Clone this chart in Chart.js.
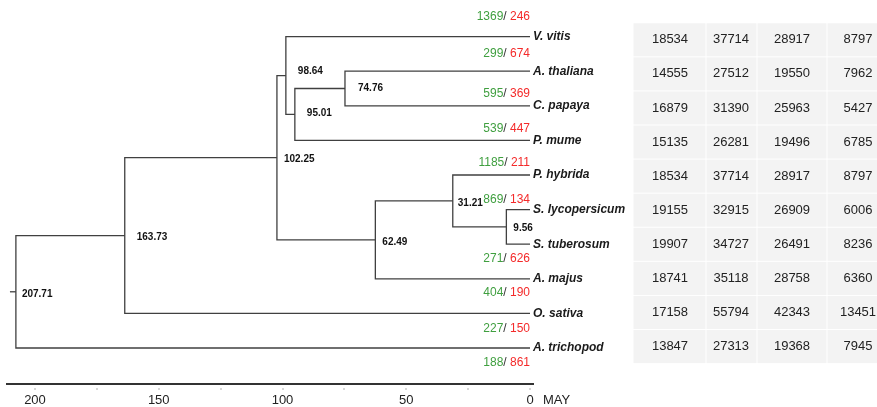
<!DOCTYPE html>
<html>
<head>
<meta charset="utf-8">
<script src="https://cdn.jsdelivr.net/npm/chart.js@4"></script>
<style>
    html, body { margin: 0; padding: 0; background: #fff; }
    #wrap { width: 877px; height: 407px; position: relative; }
</style>
</head>
<body>
<div id="wrap"><canvas id="treeChart"></canvas></div>
<script>
// Tips, top to bottom
const tips = ['V. vitis', 'A. thaliana', 'C. papaya', 'P. mume', 'P. hybrida',
    'S. lycopersicum', 'S. tuberosum', 'A. majus', 'O. sativa', 'A. trichopod'];
// Gene families gained / lost on each tip
const gained = [1369, 299, 595, 539, 1185, 869, 271, 404, 227, 188];
const lost = [246, 674, 369, 447, 211, 134, 626, 190, 150, 861];

// Internal nodes (ages in MYA) and their two children ('t' = tip, 'n' = node)
const nodeAges = [74.76, 95.01, 98.64, 9.56, 31.21, 62.49, 102.25, 163.73, 207.71];
const nodeChildren = [
    ['t1', 't2'], ['n0', 't3'], ['t0', 'n1'], ['t5', 't6'], ['t4', 'n3'],
    ['n4', 't7'], ['n2', 'n5'], ['n6', 't8'], ['n7', 't9']
];

// Table columns, one value per tip
const colA = [18534, 14555, 16879, 15135, 18534, 19155, 19907, 18741, 17158, 13847];
const colB = [37714, 27512, 31390, 26281, 37714, 32915, 34727, 35118, 55794, 27313];
const colC = [28917, 19550, 25963, 19496, 28917, 26909, 26491, 28758, 42343, 19368];
const colD = [8797, 7962, 5427, 6785, 8797, 6006, 8236, 6360, 13451, 7945];

// Axis
const majorTicks = [200, 150, 100, 50, 0];
const minorTicks = [175, 125, 75, 25];
const axisUnit = 'MAY';

// Styles / placement
const lineColor = '#404040';
const green = '#3f9f3f';
const red = '#f42a2a';
const rootStub = 2.4;
const countDy = [-20, -18, -12, -12, -12, -10, 14, 14, 15, 15];
const nodeLabelDx = [13, 12, 12, 7, 5, 7, 7, 12, 6];
const nodeLabelDy = [0, -1, -4, 1, 2, 2, 2, 2, 2];
const tableCols = [633, 706, 757, 827, 889];
const tableTextX = [670, 731, 792, 858];
const FONT = '"Liberation Sans", Arial, sans-serif';

// Layout: tips at y = index, nodes midway between children
const nodePos = [];
function posOf(ref) {
    const i = parseInt(ref.slice(1));
    return ref[0] === 't' ? { x: 0, y: i } : nodePos[i];
}
nodeAges.forEach((age, i) => {
    const a = posOf(nodeChildren[i][0]);
    const b = posOf(nodeChildren[i][1]);
    nodePos[i] = { x: age, y: (a.y + b.y) / 2, a: a, b: b };
});

// One elbow per internal node
const datasets = nodePos.map(n => ({
    data: [
        { x: n.a.x, y: n.a.y }, { x: n.x, y: n.a.y },
        { x: n.x, y: n.b.y }, { x: n.b.x, y: n.b.y }
    ]
}));
const root = nodePos[nodePos.length - 1];
datasets.push({ data: [{ x: root.x + rootStub, y: root.y }, { x: root.x, y: root.y }] });
datasets.forEach(d => {
    d.showLine = true;
    d.borderColor = lineColor;
    d.borderWidth = 1.3;
    d.pointRadius = 0;
    d.tension = 0;
    d.fill = false;
});

const labelsPlugin = {
    id: 'treeLabels',
    afterDatasetsDraw(chart) {
        const ctx = chart.ctx;
        const xs = chart.scales.x;
        const ys = chart.scales.y;
        const x0 = xs.getPixelForValue(0);
        ctx.save();
        ctx.textBaseline = 'middle';

        // node ages
        ctx.font = 'bold 10px ' + FONT;
        ctx.fillStyle = '#111';
        ctx.textAlign = 'left';
        nodePos.forEach((n, i) => {
            ctx.fillText(nodeAges[i].toFixed(2), xs.getPixelForValue(n.x) + nodeLabelDx[i],
                ys.getPixelForValue(n.y) + nodeLabelDy[i]);
        });

        // tip names
        ctx.font = 'italic bold 12px ' + FONT;
        ctx.fillStyle = '#1a1a1a';
        tips.forEach((t, i) => {
            ctx.fillText(t, x0 + 3, ys.getPixelForValue(i));
        });

        // gained / lost
        ctx.font = '12px ' + FONT;
        tips.forEach((t, i) => {
            const y = ys.getPixelForValue(i) + countDy[i];
            const r = ' ' + lost[i];
            const wr = ctx.measureText(r).width;
            const ws = ctx.measureText('/').width;
            ctx.textAlign = 'left';
            ctx.fillStyle = red;
            ctx.fillText(r, x0 - wr, y);
            ctx.fillStyle = '#333';
            ctx.fillText('/', x0 - wr - ws, y);
            ctx.textAlign = 'right';
            ctx.fillStyle = green;
            ctx.fillText(String(gained[i]), x0 - wr - ws, y);
        });

        // axis tick marks and unit
        const axisY = xs.top;
        ctx.fillStyle = '#b0b0b0';
        majorTicks.concat(minorTicks).forEach(v => {
            ctx.fillRect(Math.round(xs.getPixelForValue(v)) - 0.5, axisY + 4, 1, 2);
        });
        ctx.font = '13px ' + FONT;
        ctx.fillStyle = '#222';
        ctx.textAlign = 'left';
        ctx.fillText(axisUnit, x0 + 13, axisY + 16);

        // table
        const cols = [colA, colB, colC, colD];
        const top = ys.getPixelForValue(-0.4);
        const bottom = ys.getPixelForValue(9.45);
        const rowH = (bottom - top) / tips.length;
        ctx.textAlign = 'center';
        tips.forEach((t, i) => {
            const ry = top + i * rowH;
            cols.forEach((col, c) => {
                ctx.fillStyle = '#f3f3f3';
                ctx.fillRect(tableCols[c] + 0.5, ry + 0.5, tableCols[c + 1] - tableCols[c] - 1, rowH - 1);
                ctx.fillStyle = '#222';
                ctx.fillText(String(col[i]), tableTextX[c], ry + rowH / 2);
            });
        });
        ctx.restore();
    }
};

new Chart(document.getElementById('treeChart').getContext('2d'), {
    type: 'scatter',
    data: { datasets: datasets },
    options: {
        responsive: true,
        maintainAspectRatio: false,
        animation: false,
        layout: { padding: { left: 7, right: 344, top: 2, bottom: 0 } },
        plugins: { legend: { display: false }, tooltip: { enabled: false } },
        scales: {
            x: {
                type: 'linear',
                reverse: true,
                min: -1.2,
                max: 211.3,
                afterBuildTicks: scale => { scale.ticks = majorTicks.map(v => ({ value: v })); },
                afterFit: scale => { scale.height = 23; },
                grid: { display: false, drawTicks: false },
                border: { display: true, color: '#333', width: 2 },
                ticks: {
                    padding: 9,
                    autoSkip: false,
                    maxRotation: 0,
                    color: '#222',
                    font: { family: FONT, size: 13 }
                }
            },
            y: {
                type: 'linear',
                reverse: true,
                min: -1,
                max: 10.04,
                display: false
            }
        }
    },
    plugins: [labelsPlugin]
});
</script>
</body>
</html>
